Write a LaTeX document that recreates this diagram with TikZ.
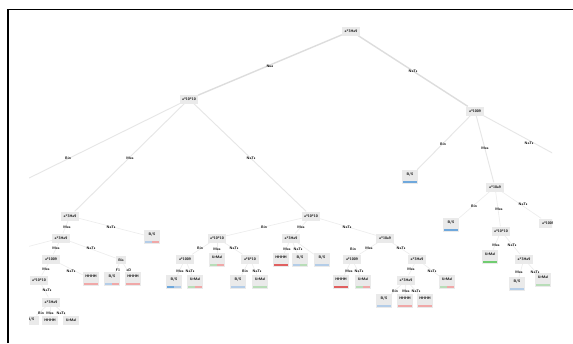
\documentclass[tikz,border=0pt]{standalone}
\usetikzlibrary{backgrounds}
\definecolor{boxg}{HTML}{EAEAEA}
\definecolor{edg}{HTML}{DDDDDD}
\definecolor{edgb}{HTML}{E6E6E6}
\definecolor{edgc}{HTML}{ECECEC}
\definecolor{lb}{HTML}{6FA8DC}
\definecolor{llb}{HTML}{B4CDE8}
\definecolor{lr}{HTML}{E06060}
\definecolor{llr}{HTML}{F0A8A8}
\definecolor{lg}{HTML}{70CC70}
\definecolor{llg}{HTML}{B8DDB8}
\tikzset{
  tfont/.style={font=\sffamily\bfseries\fontsize{3.6}{4}\selectfont},
  inode/.style={tfont, fill=boxg, minimum width=18pt, minimum height=9pt, inner sep=1pt},
  snode/.style={tfont, fill=boxg, minimum width=10pt, minimum height=8pt, inner sep=1pt},
  leafbox/.style 2 args={tfont, fill=boxg, minimum width=16pt, inner xsep=1pt, inner ysep=2.5pt,
    text height=3pt, text depth=6pt,
    path picture={
      \fill[#1] ([xshift=1.2pt,yshift=1.2pt]path picture bounding box.south west) rectangle ([yshift=2.6pt]path picture bounding box.south);
      \fill[#2] ([yshift=1.2pt]path picture bounding box.south) rectangle ([xshift=-1.2pt,yshift=2.6pt]path picture bounding box.south east);
    }},
  shortleaf/.style={tfont, fill=boxg, minimum width=16pt, minimum height=9pt, inner sep=1pt},
  elab/.style={tfont, inner sep=0.5pt},
  e1/.style={draw=edg, line width=1.4pt},
  e2/.style={draw=edgb, line width=0.9pt},
  e3/.style={draw=edgc, line width=0.6pt},
  frameline/.style={draw=black, line width=1.6pt}
}
\begin{document}
\begin{tikzpicture}[x=1pt,y=-1pt]
\useasboundingbox (0,0) rectangle (573,343);
\draw[frameline] (8,343) -- (8,9.5) -- (573,9.5);
\begin{scope}
\clip (29,12) rectangle (552,326);
% internal nodes
\node[inode] (r) at (351,31) {a*3Ha9};
\node[inode] (a) at (189,99) {a*10*10};
\node[inode] (b) at (475,111) {a*1009};
\node[inode] (a1) at (70,216) {a*3Ha9};
\node[inode] (a2) at (311,216) {a*10*10};
\node[inode] (a1a) at (61,238) {a*3Ha9};
\node[inode] (a1aa) at (51,259) {a*1009};
\node[snode] (a1ab) at (121,260) {Bis};
\node[inode] (a1aaa) at (39,280) {a*10*10};
\node[inode] (a1aaab) at (51,302) {a*3Ha9};
\node[inode] (a2a) at (217,238) {a*10*10};
\node[inode] (a2b) at (291,238) {a*3Ha9};
\node[inode] (a2c) at (385,238) {a*10a9};
\node[inode] (a2aa) at (185,259) {a*1009};
\node[inode] (a2ac) at (250,259) {a*8*10};
\node[inode] (a2ca) at (352,259) {a*1009};
\node[inode] (a2cc) at (417,259) {a*3Ha9};
\node[inode] (a2cca) at (406,280) {a*3Ha9};
\node[inode] (b2) at (495,187) {a*10a9};
\node[inode] (b2b) at (501,231) {a*10*10};
\node[inode] (b2c) at (548,223) {a*1009};
\node[inode] (b2bb) at (524,259) {a*3Ha9};
% leaves
\node[leafbox={llb}{llr}] (a1b) at (152,237) {B/S};
\node[leafbox={llr}{llr}] (a1aab) at (91,279) {\textbf{HHHH}};
\node[leafbox={llb}{llr}] (a1aba) at (112,279) {B/S};
\node[leafbox={llr}{llr}] (a1abb) at (133,279) {\textbf{HHHH}};
\node[shortleaf] (a1aaab1) at (31,320) {B/S};
\node[shortleaf] (a1aaab2) at (50,320) {\textbf{HHHH}};
\node[shortleaf] (a1aaab3) at (71,320) {UrMal};
\node[leafbox={llg}{llr}] (a2ab) at (217,260) {UrMal};
\node[leafbox={lb}{llb}] (a2aaa) at (174,282) {B/S};
\node[leafbox={llg}{llr}] (a2aab) at (195,282) {UrMal};
\node[leafbox={llb}{llb}] (a2aca) at (238,282) {B/S};
\node[leafbox={llg}{llg}] (a2acb) at (260,282) {UrMal};
\node[leafbox={lr}{lr}] (a2ba) at (281,260) {\textbf{HHHH}};
\node[leafbox={llb}{llg}] (a2bb) at (300,260) {B/S};
\node[leafbox={llb}{llb}] (a2bc) at (322,260) {B/S};
\node[leafbox={lr}{lr}] (a2caa) at (341,282) {\textbf{HHHH}};
\node[leafbox={llg}{llr}] (a2cab) at (363,282) {UrMal};
\node[leafbox={llg}{llr}] (a2ccb) at (447,282) {UrMal};
\node[leafbox={llb}{llb}] (a2ccaa) at (384,301) {B/S};
\node[leafbox={llr}{llr}] (a2ccab) at (405,301) {\textbf{HHHH}};
\node[leafbox={llr}{llr}] (a2ccac) at (425,301) {\textbf{HHHH}};
\node[leafbox={lb}{lb}] (bl) at (410,177) {B/S};
\node[leafbox={lb}{lb}] (b2a) at (451,225) {B/S};
\node[leafbox={lg}{lg}] (b2ba) at (490,257) {UrMal};
\node[leafbox={llb}{llb}] (b2bba) at (517,284) {B/S};
\node[leafbox={llg}{llg}] (b2bbb) at (543,280) {UrMal};
\coordinate (aL) at (15,185);
\coordinate (a1aL) at (15,250);
\coordinate (bR) at (580,168);
% edge labels
\node[elab] (t1) at (270,66) {Nua};
\node[elab] (t2) at (413,71) {NaTs};
\node[elab] (t3) at (68,158) {Bin};
\node[elab] (t4) at (130,158) {Mea};
\node[elab] (t5) at (251,158) {NaTs};
\node[elab] (t6) at (443,144) {Bin};
\node[elab] (t7) at (485,148) {Mea};
\node[elab] (t8) at (529,143) {NaTs};
\node[elab] (t9) at (474,206) {Bin};
\node[elab] (t10) at (499,209) {Mea};
\node[elab] (t11) at (523,204) {NaTs};
\node[elab] (t12) at (496,245) {Mea};
\node[elab] (t13) at (512,245) {NaTs};
\node[elab] (t14) at (519,272) {Mea};
\node[elab] (t15) at (535,272) {NaTs};
\node[elab] (t16) at (67,227) {Mea};
\node[elab] (t17) at (111,227) {NaTs};
\node[elab] (t18) at (56,248) {Mea};
\node[elab] (t19) at (91,248) {NaTs};
\node[elab] (t20) at (46,269) {Mea};
\node[elab] (t21) at (71,271) {NaTs};
\node[elab] (t22) at (118,270) {F1};
\node[elab] (t23) at (129,270) {eD};
\node[elab] (t24) at (47,290) {NaTs};
\node[elab] (t25) at (41,313) {Bin};
\node[elab] (t26) at (50,313) {Mea};
\node[elab] (t27) at (61,313) {NaTs};
\node[elab] (t28) at (264,227) {Bin};
\node[elab] (t29) at (301,227) {Mea};
\node[elab] (t30) at (347,227) {NaTs};
\node[elab] (t31) at (200,248) {Bin};
\node[elab] (t32) at (217,249) {Mea};
\node[elab] (t33) at (234,248) {NaTs};
\node[elab] (t34) at (180,271) {Mea};
\node[elab] (t35) at (190,271) {NaTs};
\node[elab] (t36) at (245,271) {Bin};
\node[elab] (t37) at (257,271) {NaTs};
\node[elab] (t38) at (287,249) {Mea};
\node[elab] (t39) at (298,249) {NaTs};
\node[elab] (t40) at (353,249) {Bin};
\node[elab] (t41) at (369,248) {Mea};
\node[elab] (t42) at (401,248) {NaTs};
\node[elab] (t43) at (349,271) {Mea};
\node[elab] (t44) at (359,271) {NaTs};
\node[elab] (t45) at (411,269) {Mea};
\node[elab] (t46) at (432,271) {NaTs};
\node[elab] (t47) at (395,291) {Bin};
\node[elab] (t48) at (406,291) {Mea};
\node[elab] (t49) at (416,291) {NaTs};
\end{scope}
\begin{scope}[on background layer]
\fill[white] (0,0) rectangle (573,343);
\clip (29,12) rectangle (552,326);
\draw[e1] (r) -- (a);
\draw[e1] (r) -- (b);
\draw[e2] (a) -- (aL);
\draw[e2] (a) -- (a1);
\draw[e2] (a) -- (a2);
\draw[e2] (b) -- (bl);
\draw[e2] (b) -- (b2);
\draw[e2] (b) -- (bR);
\draw[e3] (b2) -- (b2a);
\draw[e3] (b2) -- (b2b);
\draw[e3] (b2) -- (b2c);
\draw[e3] (b2b) -- (b2ba);
\draw[e3] (b2b) -- (b2bb);
\draw[e3] (b2bb) -- (b2bba);
\draw[e3] (b2bb) -- (b2bbb);
\draw[e3] (a1) -- (a1a);
\draw[e3] (a1) -- (a1b);
\draw[e3] (a1a) -- (a1aL);
\draw[e3] (a1a) -- (a1aa);
\draw[e3] (a1a) -- (a1ab);
\draw[e3] (a1aa) -- (a1aaa);
\draw[e3] (a1aa) -- (a1aab);
\draw[e3] (a1ab) -- (a1aba);
\draw[e3] (a1ab) -- (a1abb);
\draw[e3] (a1aaa) -- (a1aaab);
\draw[e3] (a1aaab) -- (a1aaab1);
\draw[e3] (a1aaab) -- (a1aaab2);
\draw[e3] (a1aaab) -- (a1aaab3);
\draw[e3] (a2) -- (a2a);
\draw[e3] (a2) -- (a2b);
\draw[e3] (a2) -- (a2c);
\draw[e3] (a2a) -- (a2aa);
\draw[e3] (a2a) -- (a2ab);
\draw[e3] (a2a) -- (a2ac);
\draw[e3] (a2aa) -- (a2aaa);
\draw[e3] (a2aa) -- (a2aab);
\draw[e3] (a2ac) -- (a2aca);
\draw[e3] (a2ac) -- (a2acb);
\draw[e3] (a2b) -- (a2ba);
\draw[e3] (a2b) -- (a2bb);
\draw[e3] (a2b) -- (a2bc);
\draw[e3] (a2c) -- (a2ca);
\draw[e3] (a2c) -- (a2cc);
\draw[e3] (a2ca) -- (a2caa);
\draw[e3] (a2ca) -- (a2cab);
\draw[e3] (a2cc) -- (a2cca);
\draw[e3] (a2cc) -- (a2ccb);
\draw[e3] (a2cca) -- (a2ccaa);
\draw[e3] (a2cca) -- (a2ccab);
\draw[e3] (a2cca) -- (a2ccac);
\end{scope}
\end{tikzpicture}
\end{document}
